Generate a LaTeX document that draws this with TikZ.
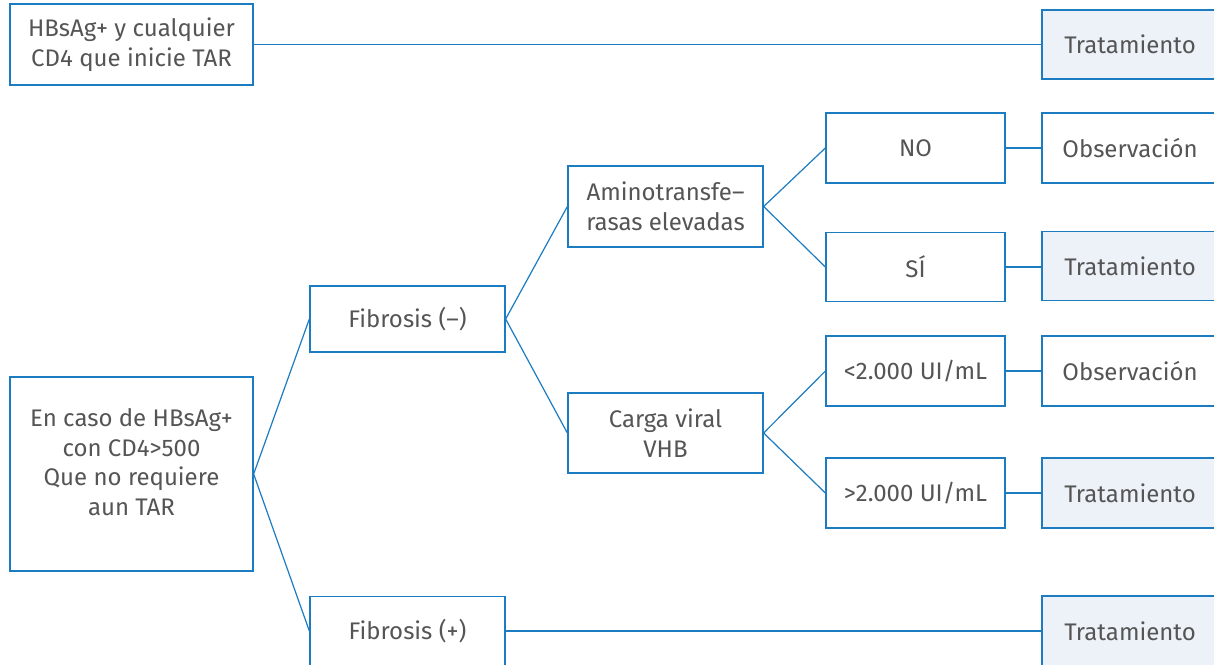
\documentclass[tikz,border=0pt]{standalone}
\usepackage{fontspec}
\setmainfont{Fira Sans}
\definecolor{lineblue}{HTML}{1C7CC2}
\definecolor{paleblue}{HTML}{EDF2F9}
\definecolor{textgray}{HTML}{555555}
\begin{document}
\begin{tikzpicture}[x=1pt,y=-1pt,
  box/.style={draw=lineblue,line width=1.3pt,fill=white,inner sep=0pt,align=center,
    text=textgray,font=\fontsize{24}{29.5}\selectfont},
  result/.style={box,fill=paleblue},
  txt/.style={inner sep=0pt,align=center,text=textgray,font=\fontsize{24}{29.5}\selectfont},
  link/.style={draw=lineblue,line width=1.2pt}]
\clip (0,0) rectangle (1214,664);
\fill[white] (0,0) rectangle (1214,664);

% first row: HBsAg+ with any CD4 starting ART
\node[box,minimum width=243,minimum height=81] (hbs) at (131.5,44.5) {HBsAg+ y cualquier\\CD4 que inicie TAR};
\node[result,minimum width=190,minimum height=69] (t0) at (1137,44.5) {\hspace*{-14pt}Tratamiento};

% starting box of the decision tree
\node[box,minimum width=243,minimum height=194] (start) at (131.5,474) {};
\node[txt,yshift=12pt] (starttxt) at (start) {En caso de HBsAg+\\con CD4>500\\Que no requiere\\aun TAR};

% fibrosis branches
\node[box,minimum width=195,minimum height=66] (fneg) at (407.5,319) {Fibrosis (–)};
\node[box,minimum width=195,minimum height=69] (fpos) at (407.5,631) {Fibrosis (+)};

% second level
\node[box,minimum width=195,minimum height=81] (amino) at (665.5,206.5) {Aminotransfe–\\rasas elevadas};
\node[box,minimum width=195,minimum height=80] (carga) at (665.5,433) {Carga viral\\VHB};

% third level
\node[box,minimum width=179,minimum height=70] (no) at (915.5,148) {NO};
\node[box,minimum width=179,minimum height=69] (si) at (915.5,267) {SÍ};
\node[box,minimum width=179,minimum height=70] (low) at (915.5,371) {<2.000 UI/mL};
\node[box,minimum width=179,minimum height=70] (high) at (915.5,493) {>2.000 UI/mL};

% outcomes
\node[box,minimum width=190,minimum height=70] (o1) at (1137,148) {\hspace*{-14pt}Observación};
\node[result,minimum width=190,minimum height=69] (t1) at (1137,266) {\hspace*{-14pt}Tratamiento};
\node[box,minimum width=190,minimum height=70] (o2) at (1137,371) {\hspace*{-14pt}Observación};
\node[result,minimum width=190,minimum height=70] (t2) at (1137,493) {\hspace*{-14pt}Tratamiento};
\node[result,minimum width=190,minimum height=70] (t3) at (1137,631) {\hspace*{-14pt}Tratamiento};

% connectors
\draw[link] (hbs.east) -- (t0.west);
\draw[link] (start.east) -- (fneg.west);
\draw[link] (start.east) -- (fpos.west);
\draw[link] (fneg.east) -- (amino.west);
\draw[link] (fneg.east) -- (carga.west);
\draw[link] (fpos.east) -- (t3.west);
\draw[link] (amino.east) -- (no.west);
\draw[link] (amino.east) -- (si.west);
\draw[link] (carga.east) -- (low.west);
\draw[link] (carga.east) -- (high.west);
\draw[link] (no.east) -- (o1.west);
\draw[link] (si.east) -- (si.east -| t1.west);
\draw[link] (low.east) -- (o2.west);
\draw[link] (high.east) -- (t2.west);
\end{tikzpicture}
\end{document}
